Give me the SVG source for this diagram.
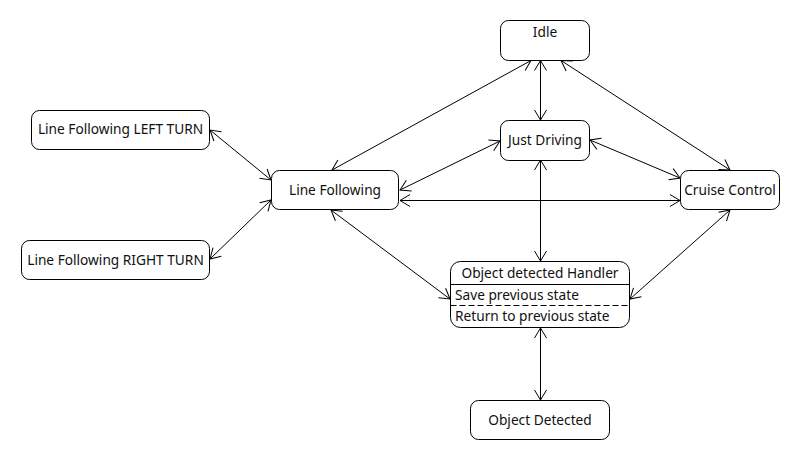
<svg xmlns="http://www.w3.org/2000/svg" width="810" height="460" viewBox="0 0 810 460">
  <defs>
    <marker id="open" viewBox="-12 -8 14 16" markerWidth="14" markerHeight="16" refX="0" refY="0" orient="auto-start-reverse" markerUnits="userSpaceOnUse">
      <path d="M-10,-6 L0,0 L-10,6" fill="none" stroke="#000" stroke-width="1"/>
    </marker>
  </defs>
  <style>
    .state { fill: #fff; stroke: #000; stroke-width: 1; }
    .lbl { font-family: "Noto Sans", "Open Sans", sans-serif; font-size: 13.7px; fill: #111; }
    .mid { text-anchor: middle; }
    .edge { stroke: #000; stroke-width: 1; fill: none; marker-start: url(#open); marker-end: url(#open); }
    .sep { stroke: #000; stroke-width: 1; }
  </style>
  <rect width="810" height="460" fill="#fff"/>

  <g id="connectors">
    <line class="edge" x1="531" y1="60.5" x2="332" y2="170"/>
    <line class="edge" x1="540.5" y1="60.5" x2="540.5" y2="120"/>
    <line class="edge" x1="561" y1="60.5" x2="730" y2="170"/>
    <line class="edge" x1="500" y1="141" x2="400" y2="190"/>
    <line class="edge" x1="590" y1="140" x2="680" y2="178"/>
    <line class="edge" x1="400" y1="200.5" x2="680" y2="200.5"/>
    <line class="edge" x1="540.5" y1="160" x2="540.5" y2="261"/>
    <line class="edge" x1="331" y1="210" x2="450" y2="299"/>
    <line class="edge" x1="730" y1="210" x2="630" y2="299"/>
    <line class="edge" x1="210" y1="130" x2="271" y2="180"/>
    <line class="edge" x1="271" y1="200" x2="210" y2="259"/>
    <line class="edge" x1="540.5" y1="328" x2="540.5" y2="400"/>
  </g>

  <g id="idle">
    <rect class="state" x="500.5" y="20.5" width="89" height="40" rx="8"/>
    <text class="lbl mid" x="545" y="37">Idle</text>
  </g>
  <g id="just-driving">
    <rect class="state" x="500.5" y="120.5" width="89" height="40" rx="8"/>
    <text class="lbl mid" x="545" y="145">Just Driving</text>
  </g>
  <g id="line-following">
    <rect class="state" x="271.5" y="170.5" width="127" height="39" rx="8"/>
    <text class="lbl mid" x="335" y="195">Line Following</text>
  </g>
  <g id="cruise-control">
    <rect class="state" x="680.5" y="170.5" width="99" height="39" rx="8"/>
    <text class="lbl mid" x="730" y="195">Cruise Control</text>
  </g>
  <g id="lf-left-turn">
    <rect class="state" x="31.5" y="110.5" width="178" height="39" rx="8"/>
    <text class="lbl mid" x="120.5" y="134">Line Following LEFT TURN</text>
  </g>
  <g id="lf-right-turn">
    <rect class="state" x="21.5" y="240.5" width="188" height="39" rx="8"/>
    <text class="lbl mid" x="115.5" y="265">Line Following RIGHT TURN</text>
  </g>
  <g id="object-detected-handler">
    <rect class="state" x="450.5" y="261.5" width="179" height="66" rx="10"/>
    <text class="lbl mid" x="540" y="278">Object detected Handler</text>
    <line class="sep" x1="450.5" y1="284.5" x2="629.5" y2="284.5"/>
    <text class="lbl" x="455" y="300">Save previous state</text>
    <line class="sep" x1="450.5" y1="305.5" x2="629.5" y2="305.5" stroke-dasharray="6,3"/>
    <text class="lbl" x="455" y="321">Return to previous state</text>
  </g>
  <g id="object-detected">
    <rect class="state" x="470.5" y="400.5" width="139" height="39" rx="8"/>
    <text class="lbl mid" x="540" y="425">Object Detected</text>
  </g>
</svg>
